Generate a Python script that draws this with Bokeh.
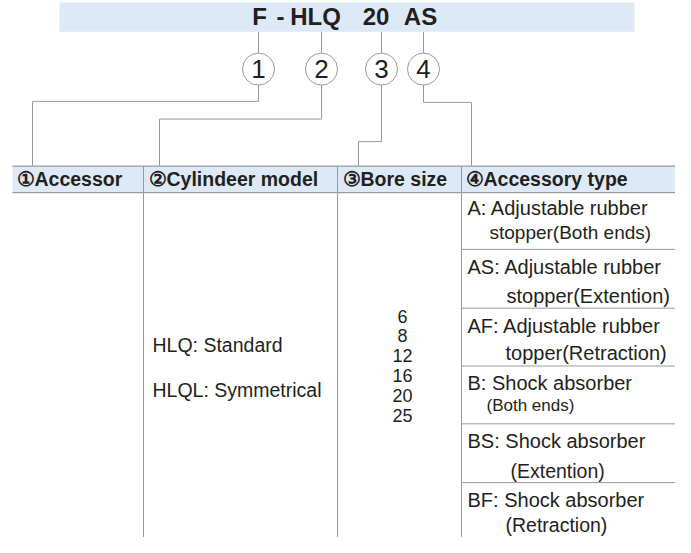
from bokeh.plotting import figure
from bokeh.models import Range1d
from bokeh.core.properties import value
from bokeh.embed import file_html
from bokeh.resources import INLINE

# ---- data ----
code_parts = ["F", "-", "HLQ", "20", "AS"]
callout_numbers = ["1", "2", "3", "4"]
headers = ["\u2460Accessor", "\u2461Cylindeer model", "\u2462Bore size", "\u2463Accessory type"]
models = ["HLQ: Standard", "HLQL: Symmetrical"]
bore_sizes = ["6", "8", "12", "16", "20", "25"]
acc_codes = ["A", "AS", "AF", "B", "BS", "BF"]
acc_line1 = ["Adjustable rubber", "Adjustable rubber", "Adjustable rubber",
             "Shock absorber", "Shock absorber", "Shock absorber"]
acc_line2 = ["stopper(Both ends)", "stopper(Extention)", "topper(Retraction)",
             "(Both ends)", "(Extention)", "(Retraction)"]

# ---- layout ----
TXT = "#231f20"
LINE = "#9a9a9a"
BLUE = "#dde9f6"
FONT = "Liberation Sans"


def mid(baseline, size):
    # convert a baseline position to a vertical text centre
    return baseline - 0.36 * size


p = figure(width=675, height=537, output_backend="svg", toolbar_location=None,
           x_range=Range1d(0, 675), y_range=Range1d(551, 3),
           min_border=0, min_border_left=0, min_border_right=0,
           min_border_top=0, min_border_bottom=0)
p.axis.visible = False
p.grid.visible = False
p.outline_line_color = None
p.background_fill_color = "white"
p.border_fill_color = "white"


def txt(xs, ys, texts, size, bold=False, align="left", font=FONT):
    p.text(x=xs, y=[mid(y, size) for y in ys], text=texts, text_font=value(font),
           text_font_style="bold" if bold else "normal", text_font_size=f"{size}px",
           text_align=align, text_baseline="middle", text_color=TXT)


# banner
p.quad(left=[59], right=[634], top=[5], bottom=[35], fill_color=BLUE, line_color=None)
part_x = [259, 280, 315, 375.5, 420]
txt(part_x, [28] * len(code_parts), code_parts, 24, bold=True, align="center")

# callouts
cx = [258, 321, 381, 423]
cy = 73
r = 16
p.multi_line(xs=[[x, x] for x in cx], ys=[[35, cy - r]] * 4, line_color=LINE, line_width=1)
p.circle(x=cx, y=[cy] * 4, radius=r, fill_color="white", line_color=LINE, line_width=1)
txt(cx, [cy + 9] * 4, callout_numbers, 26, align="center")

# leaders from callouts to header columns
col_anchor = [32, 159, 358, 471]
elbow_y = [106, 124, 147, 107]
xs, ys = [], []
for x0, xa, ey in zip(cx, col_anchor, elbow_y):
    xs.append([x0, x0, xa, xa])
    ys.append([cy + r, ey, ey, 172])
p.multi_line(xs=xs, ys=ys, line_color=LINE, line_width=1)

# table header
left, right = 12, 680
col_div = [143, 337, 461]
p.quad(left=[left], right=[right], top=[172], bottom=[199], fill_color=BLUE, line_color=None)
p.multi_line(xs=[[left, right], [left, right]], ys=[[172, 172], [199, 199]],
             line_color=LINE, line_width=1.2)
p.multi_line(xs=[[x, x] for x in col_div], ys=[[172, 560]] * 3, line_color=LINE, line_width=1)
head_x = [16, 148, 342, 465]
txt(head_x, [192] * 4, headers, 19.5, bold=True)

# column 2
txt([152, 152], [362, 408], models, 19.5)

# column 3
bore_y = [331.5 + 20.2 * i for i in range(len(bore_sizes))]
txt([402] * len(bore_sizes), bore_y, bore_sizes, 18, align="center")

# column 4 rows
row_top = [199, 257, 317, 376, 435, 495]
seps = row_top[1:]
p.multi_line(xs=[[461, right]] * len(seps), ys=[[y, y] for y in seps], line_color=LINE, line_width=1)
l1_y = [222, 282, 342, 401, 460, 520]
l2_y = [247, 312, 370, 422, 490, 545]
l2_x = [489, 506, 505, 486, 510, 505]
l2_size = [19, 20, 20, 17, 19.5, 19.5]
line1 = [c + ": " + t for c, t in zip(acc_codes, acc_line1)]
txt([467] * len(line1), l1_y, line1, 20)
for x, y, t, s in zip(l2_x, l2_y, acc_line2, l2_size):
    txt([x], [y], [t], s)

open("out.html", "w").write(file_html(p, INLINE))
